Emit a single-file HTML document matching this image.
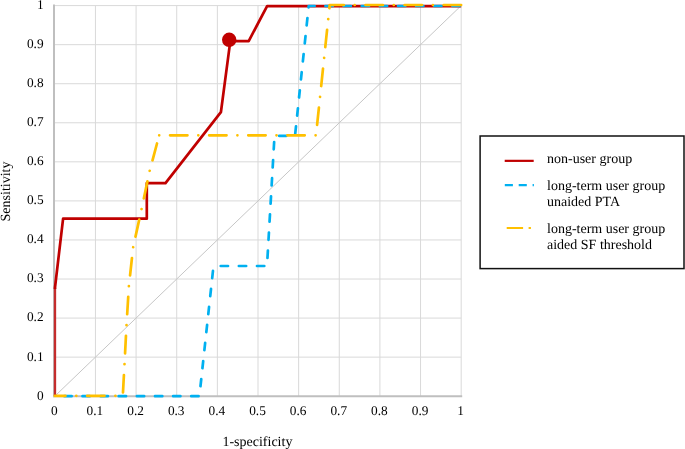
<!DOCTYPE html>
<html><head><meta charset="utf-8"><style>
html,body{margin:0;padding:0;background:#fff;width:685px;height:449px;overflow:hidden}
svg{display:block;will-change:transform}
.g{stroke:#d9d9d9;stroke-width:1}
.ax{stroke:#bfbfbf;stroke-width:2}
.diag{stroke:#c6c6c6;stroke-width:1}
.red{fill:none;stroke:#c00000;stroke-width:2.7;stroke-linejoin:round}
.blue{fill:none;stroke:#00b0f0;stroke-width:2.7;stroke-linejoin:round;stroke-linecap:round;stroke-dasharray:7.3 10.83;stroke-dashoffset:8.58}
.orange{fill:none;stroke:#ffc000;stroke-width:2.7;stroke-linejoin:round;stroke-linecap:round;stroke-dasharray:17.4 10.85 0.01 10.84;stroke-dashoffset:6.75}
.t{font-family:"Liberation Serif",serif;font-size:14px;fill:#000;text-rendering:geometricPrecision}
.tk{font-family:"Liberation Serif",serif;font-size:13.33px;fill:#000;text-rendering:geometricPrecision}
</style></head><body>
<svg width="685" height="449" viewBox="0 0 685 449">
<line x1="95.44" y1="5.60" x2="95.44" y2="396.20" class="g"/>
<line x1="136.08" y1="5.60" x2="136.08" y2="396.20" class="g"/>
<line x1="176.72" y1="5.60" x2="176.72" y2="396.20" class="g"/>
<line x1="217.36" y1="5.60" x2="217.36" y2="396.20" class="g"/>
<line x1="258.00" y1="5.60" x2="258.00" y2="396.20" class="g"/>
<line x1="298.64" y1="5.60" x2="298.64" y2="396.20" class="g"/>
<line x1="339.28" y1="5.60" x2="339.28" y2="396.20" class="g"/>
<line x1="379.92" y1="5.60" x2="379.92" y2="396.20" class="g"/>
<line x1="420.56" y1="5.60" x2="420.56" y2="396.20" class="g"/>
<line x1="461.20" y1="5.60" x2="461.20" y2="396.20" class="g"/>
<line x1="54.80" y1="357.14" x2="461.20" y2="357.14" class="g"/>
<line x1="54.80" y1="318.08" x2="461.20" y2="318.08" class="g"/>
<line x1="54.80" y1="279.02" x2="461.20" y2="279.02" class="g"/>
<line x1="54.80" y1="239.96" x2="461.20" y2="239.96" class="g"/>
<line x1="54.80" y1="200.90" x2="461.20" y2="200.90" class="g"/>
<line x1="54.80" y1="161.84" x2="461.20" y2="161.84" class="g"/>
<line x1="54.80" y1="122.78" x2="461.20" y2="122.78" class="g"/>
<line x1="54.80" y1="83.72" x2="461.20" y2="83.72" class="g"/>
<line x1="54.80" y1="44.66" x2="461.20" y2="44.66" class="g"/>
<line x1="54.80" y1="5.60" x2="461.20" y2="5.60" class="g"/>
<line x1="54.00" y1="4.60" x2="54.00" y2="397.20" class="ax"/>
<line x1="53.00" y1="396.20" x2="462.20" y2="396.20" class="ax"/>
<line x1="54.80" y1="396.20" x2="461.20" y2="5.60" class="diag"/>
<line x1="55.0" y1="396.2" x2="55.0" y2="287.5" stroke="#c42c2c" stroke-width="2.3"/>
<polyline points="55.00,289.00 55.00,287.50 63.10,218.70 146.80,218.70 146.80,183.20 165.50,183.20 220.90,112.20 230.30,41.10 248.70,41.10 267.10,6.10 461.20,6.10" class="red"/>
<circle cx="229.2" cy="39.8" r="7.2" fill="#c00000"/>
<polyline points="54.80,396.20 199.40,396.20 213.50,266.00" class="blue"/>
<polyline points="213.50,266.00 267.00,266.00 274.50,135.80 295.00,135.80 308.70,6.00 461.20,6.00" class="blue" style="stroke-dashoffset:10.9"/>
<polyline points="54.80,395.80 122.80,395.80 124.50,364.20 126.50,325.30 128.90,285.90 133.10,247.50 141.60,208.90 149.60,171.10 159.20,135.30" class="orange"/>
<polyline points="159.20,135.30 316.00,135.30 329.70,5.00 461.20,5.00" class="orange" style="stroke-dashoffset:28.25"/>
<text x="43.6" y="399.60" text-anchor="end" class="tk">0</text>
<text x="43.6" y="360.54" text-anchor="end" class="tk">0.1</text>
<text x="43.6" y="321.48" text-anchor="end" class="tk">0.2</text>
<text x="43.6" y="282.42" text-anchor="end" class="tk">0.3</text>
<text x="43.6" y="243.36" text-anchor="end" class="tk">0.4</text>
<text x="43.6" y="204.30" text-anchor="end" class="tk">0.5</text>
<text x="43.6" y="165.24" text-anchor="end" class="tk">0.6</text>
<text x="43.6" y="126.18" text-anchor="end" class="tk">0.7</text>
<text x="43.6" y="87.12" text-anchor="end" class="tk">0.8</text>
<text x="43.6" y="48.06" text-anchor="end" class="tk">0.9</text>
<text x="43.6" y="9.00" text-anchor="end" class="tk">1</text>
<text x="54.30" y="415" text-anchor="middle" class="tk">0</text>
<text x="94.94" y="415" text-anchor="middle" class="tk">0.1</text>
<text x="135.58" y="415" text-anchor="middle" class="tk">0.2</text>
<text x="176.22" y="415" text-anchor="middle" class="tk">0.3</text>
<text x="216.86" y="415" text-anchor="middle" class="tk">0.4</text>
<text x="257.50" y="415" text-anchor="middle" class="tk">0.5</text>
<text x="298.14" y="415" text-anchor="middle" class="tk">0.6</text>
<text x="338.78" y="415" text-anchor="middle" class="tk">0.7</text>
<text x="379.42" y="415" text-anchor="middle" class="tk">0.8</text>
<text x="420.06" y="415" text-anchor="middle" class="tk">0.9</text>
<text x="460.70" y="415" text-anchor="middle" class="tk">1</text>
<text x="257.4" y="446" text-anchor="middle" class="t">1-specificity</text>
<text transform="translate(10.0,191.5) rotate(-90)" x="0" y="0" text-anchor="middle" class="t">Sensitivity</text>
<rect x="480.1" y="136" width="203.9" height="132.6" fill="none" stroke="#111" stroke-width="1.5"/>
<line x1="504.7" y1="160.85" x2="533.7" y2="160.85" stroke="#c00000" stroke-width="2.2"/>
<line x1="504.8" y1="185.2" x2="533.9" y2="185.2" stroke="#00b0f0" stroke-width="2.2" stroke-dasharray="8.1 5.8"/>
<line x1="506.7" y1="228" x2="530.9" y2="228" stroke="#ffc000" stroke-width="2.2" stroke-dasharray="16.4 5.5 2.3 10"/>
<text x="547" y="163" class="t">non-user group</text>
<text x="547" y="189.5" class="t">long-term user group</text>
<text x="547" y="205.6" class="t">unaided PTA</text>
<text x="547" y="233.2" class="t">long-term user group</text>
<text x="547" y="249.2" class="t">aided SF threshold</text>
</svg>
</body></html>
